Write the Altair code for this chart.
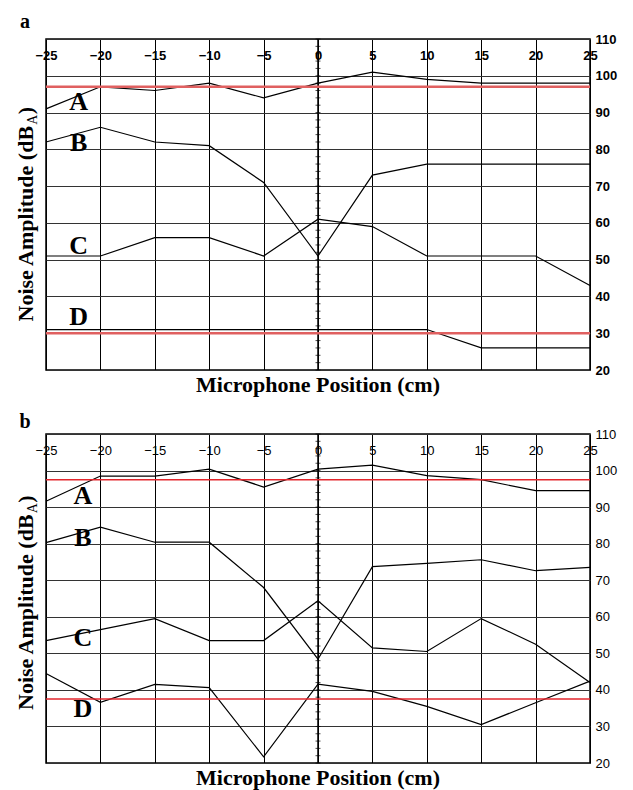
import altair as alt
import pandas as pd

# ---------------- data ----------------
POSITIONS = [-25, -20, -15, -10, -5, 0, 5, 10, 15, 20, 25]

A_a = [91, 97, 96, 98, 94, 98, 101, 99, 98, 98, 98]
B_a = [82, 86, 82, 81, 71, 51, 73, 76, 76, 76, 76]
C_a = [51, 51, 56, 56, 51, 61, 59, 51, 51, 51, 43]
D_a = [31, 31, 31, 31, 31, 31, 31, 31, 26, 26, 26]
LIMITS_a = [97, 30]

A_b = [91.6, 98.5, 98.5, 100.4, 95.5, 100.4, 101.5, 98.6, 97.5, 94.5, 94.5]
B_b = [80.3, 84.5, 80.4, 80.4, 68.0, 48.4, 73.7, 74.6, 75.6, 72.6, 73.5]
C_b = [53.5, 56.5, 59.5, 53.5, 53.5, 64.4, 51.5, 50.5, 59.5, 52.5, 42.0]
D_b = [44.5, 36.6, 41.5, 40.6, 21.7, 41.6, 39.6, 35.5, 30.5, 36.5, 42.4]
LIMITS_b = [97.5, 37.5]

SERIES = ["A", "B", "C", "D"]
LABEL_X_a = [-22, -22, -22, -22]
LABEL_Y_a = [92.9, 81.6, 53.8, 34.5]
LABEL_X_b = [-21.6, -21.6, -21.6, -21.6]
LABEL_Y_b = [93.0, 81.6, 54.1, 34.9]

X_TICKS = [-25, -20, -15, -10, -5, 0, 5, 10, 15, 20, 25]
Y_TICKS = [20, 30, 40, 50, 60, 70, 80, 90, 100, 110]
MINOR_TICKS = list(range(20, 111, 2))

PANEL_LETTERS = ["a", "b"]
X_TITLE = "Microphone Position (cm)"
Y_TITLE_MAIN = "Noise Amplitude (dB"
Y_TITLE_SUB = "A"
Y_TITLE_END = ")"

SANS = "Liberation Sans"
SERIF = "Liberation Serif"

W = 544


def panel(series_vals, limits, lab_x, lab_y, letter, letter_y, height, bold, red_color, red_width,
          ytitle_start):
    rows = []
    for name, vals in zip(SERIES, series_vals):
        for xv, yv in zip(POSITIONS, vals):
            rows.append({"x": xv, "y": yv, "series": name})
    df = pd.DataFrame(rows)
    weight = "bold" if bold else "normal"

    xscale = alt.Scale(domain=[-25, 25], nice=False, zero=False)
    yscale = alt.Scale(domain=[20, 110], nice=False, zero=False)
    xaxis = alt.Axis(
        orient="top", values=X_TICKS, grid=True, gridColor="#000", gridWidth=1,
        gridOpacity=1, ticks=False, tickSize=0, domain=False, labelPadding=-20,
        labelBaseline="alphabetic", labelFont=SANS, labelFontSize=13,
        labelFontWeight=weight, labelColor="#000", labelOverlap=False,
        labelFlush=False, title=None)
    yaxis = alt.Axis(
        orient="right", values=Y_TICKS, grid=True, gridColor="#333", gridWidth=1,
        gridOpacity=1, ticks=False, tickSize=0, domain=False, labelPadding=5,
        labelFont=SANS, labelFontSize=13, labelFontWeight=weight,
        labelColor="#000", labelOverlap=False, labelFlush=False, title=None)

    def X(field="x"):
        return alt.X(f"{field}:Q", scale=xscale, axis=xaxis, title=None)

    def Y(field="y"):
        return alt.Y(f"{field}:Q", scale=yscale, axis=yaxis, title=None)

    lines = alt.Chart(df).mark_line(color="black", strokeWidth=1.2).encode(
        x=X(), y=Y(), detail="series:N")

    zero = alt.Chart(pd.DataFrame({"x": [0]})).mark_rule(color="black", strokeWidth=1.5).encode(
        x=X())
    minor = alt.Chart(pd.DataFrame({"y": MINOR_TICKS, "x": [0] * len(MINOR_TICKS)})).mark_tick(
        orient="horizontal", size=5, thickness=1, color="black").encode(x=X(), y=Y())

    reds = alt.Chart(pd.DataFrame({"y": limits})).mark_rule(color=red_color, strokeWidth=red_width).encode(
        y=Y())

    labels = alt.Chart(pd.DataFrame({"x": lab_x, "y": lab_y, "t": SERIES})).mark_text(
        font=SERIF, fontSize=26, fontWeight="bold", color="black", baseline="middle").encode(
        x=X(), y=Y(), text="t:N")

    xtitle = alt.Chart(pd.DataFrame({"t": [X_TITLE]})).mark_text(
        font=SERIF, fontSize=22, fontWeight="bold", color="black", baseline="alphabetic").encode(
        x=alt.value(W / 2), y=alt.value(height + 22), text="t:N")

    ymain = alt.Chart(pd.DataFrame({"t": [Y_TITLE_MAIN]})).mark_text(
        font=SERIF, fontSize=22, fontWeight="bold", color="black", angle=270,
        align="left", baseline="alphabetic").encode(
        x=alt.value(-13), y=alt.value(ytitle_start), text="t:N")
    main_w = 196.8
    ysub = alt.Chart(pd.DataFrame({"t": [Y_TITLE_SUB]})).mark_text(
        font=SERIF, fontSize=14, fontWeight="normal", color="black", angle=270,
        align="left", baseline="alphabetic").encode(
        x=alt.value(-9), y=alt.value(ytitle_start - main_w), text="t:N")
    yend = alt.Chart(pd.DataFrame({"t": [Y_TITLE_END]})).mark_text(
        font=SERIF, fontSize=22, fontWeight="bold", color="black", angle=270,
        align="left", baseline="alphabetic").encode(
        x=alt.value(-13), y=alt.value(ytitle_start - main_w - 10.5), text="t:N")

    letter_mark = alt.Chart(pd.DataFrame({"t": [letter]})).mark_text(
        font=SERIF, fontSize=20, fontWeight="bold", color="black", baseline="alphabetic").encode(
        x=alt.value(-21), y=alt.value(letter_y), text="t:N")

    return alt.layer(lines, zero, minor, reds, labels, xtitle, ymain, ysub, yend, letter_mark).properties(
        width=W, height=height)


pa = panel([A_a, B_a, C_a, D_a], LIMITS_a, LABEL_X_a, LABEL_Y_a, PANEL_LETTERS[0], -11.5, 331, True,
           "#e06060", 2.5, 282.5)
pb = panel([A_b, B_b, C_b, D_b], LIMITS_b, LABEL_X_b, LABEL_Y_b, PANEL_LETTERS[1], -6, 329, False,
           "#e3262c", 1.5, 276)

chart = alt.vconcat(pa, pb, spacing=14).configure_view(
    stroke="black", strokeWidth=1.5
).properties(padding={"left": 6, "top": 2, "right": 5, "bottom": 0}, background="white")

chart.save("out.html", embed_options={"renderer": "svg", "actions": False})
